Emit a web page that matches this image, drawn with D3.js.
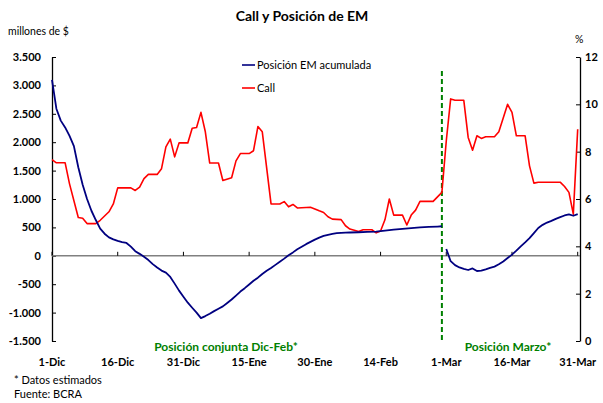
<!DOCTYPE html>
<html>
<head>
<meta charset="utf-8">
<script src="https://cdn.jsdelivr.net/npm/d3@7"></script>
<style>
  body { margin: 0; background: #fff; }
  svg { display: block; }
  text { font-family: Lato, "Open Sans", sans-serif; fill: #000; }
</style>
</head>
<body>
<svg id="chart" width="603" height="403"></svg>
<script>
// Posición de EM acumulada (millones de $), por fecha
const emFechas = [
  "2010-12-01","2010-12-02","2010-12-03","2010-12-04","2010-12-05","2010-12-06","2010-12-07","2010-12-08",
  "2010-12-09","2010-12-10","2010-12-11","2010-12-12","2010-12-13","2010-12-14","2010-12-15","2010-12-16",
  "2010-12-17","2010-12-18","2010-12-19","2010-12-20","2010-12-21","2010-12-22","2010-12-23","2010-12-24",
  "2010-12-25","2010-12-26","2010-12-27","2010-12-28","2010-12-29","2010-12-30","2010-12-31",
  "2011-01-01","2011-01-02","2011-01-03","2011-01-04","2011-01-05","2011-01-06","2011-01-07","2011-01-08",
  "2011-01-09","2011-01-10","2011-01-11","2011-01-12","2011-01-13","2011-01-14","2011-01-15","2011-01-16",
  "2011-01-17","2011-01-18","2011-01-19","2011-01-20","2011-01-21","2011-01-22","2011-01-23","2011-01-24",
  "2011-01-25","2011-01-26","2011-01-27","2011-01-28","2011-01-29","2011-01-30","2011-01-31",
  "2011-02-01","2011-02-02","2011-02-03","2011-02-04","2011-02-05","2011-02-06","2011-02-07","2011-02-09",
  "2011-02-11","2011-02-13","2011-02-15","2011-02-17","2011-02-19","2011-02-21","2011-02-23","2011-02-25",
  "2011-02-27","2011-02-28",
  "2011-03-01","2011-03-02","2011-03-03","2011-03-04","2011-03-05","2011-03-06","2011-03-07","2011-03-08",
  "2011-03-09","2011-03-10","2011-03-11","2011-03-12","2011-03-13","2011-03-14","2011-03-15","2011-03-16",
  "2011-03-17","2011-03-18","2011-03-19","2011-03-20","2011-03-21","2011-03-22","2011-03-23","2011-03-24",
  "2011-03-25","2011-03-26","2011-03-27","2011-03-28","2011-03-29","2011-03-30","2011-03-31"
];
const emValores = [
  3098, 2590, 2380, 2260, 2110, 1930, 1560, 1250, 1000, 793, 630, 478, 389, 324, 289, 264,
  241, 226, 162, 82, 34, -17, -75, -146, -206, -260, -295, -372, -490, -613, -720,
  -825, -914, -1000, -1097, -1061, -1020, -974, -931, -890, -830, -770, -700, -630, -570, -505, -440,
  -385, -320, -265, -215, -160, -105, -50, 10, 60, 115, 160, 205, 245, 285, 320,
  350, 370, 385, 398, 405, 408, 410, 415, 420, 425, 445, 460, 475, 488, 500, 508, 515, 520,
  120, -95, -165, -205, -230, -250, -222, -268, -262, -238, -212, -190, -150, -100, -40, 20,
  90, 165, 235, 310, 400, 490, 545, 585, 615, 650, 680, 710, 730, 705, 734
];

// Tasa Call (%), por fecha
const callFechas = [
  "2010-12-01","2010-12-02","2010-12-04","2010-12-05","2010-12-07","2010-12-08","2010-12-09","2010-12-11",
  "2010-12-12","2010-12-14","2010-12-15","2010-12-16","2010-12-19","2010-12-20","2010-12-21","2010-12-22",
  "2010-12-23","2010-12-25","2010-12-26","2010-12-27","2010-12-28","2010-12-29","2010-12-30",
  "2011-01-01","2011-01-02","2011-01-03","2011-01-04","2011-01-05","2011-01-06","2011-01-08","2011-01-09",
  "2011-01-11","2011-01-12","2011-01-13","2011-01-15","2011-01-16","2011-01-17","2011-01-18","2011-01-20",
  "2011-01-22","2011-01-23","2011-01-24","2011-01-25","2011-01-26","2011-01-29","2011-01-30","2011-01-31",
  "2011-02-01","2011-02-02","2011-02-03","2011-02-05","2011-02-06","2011-02-07","2011-02-09","2011-02-10",
  "2011-02-12","2011-02-13","2011-02-14","2011-02-15","2011-02-16","2011-02-17","2011-02-19","2011-02-20",
  "2011-02-21","2011-02-22","2011-02-23","2011-02-26","2011-02-27","2011-02-28",
  "2011-03-01","2011-03-02","2011-03-03","2011-03-05","2011-03-06","2011-03-07","2011-03-08","2011-03-09",
  "2011-03-10","2011-03-12","2011-03-13","2011-03-14","2011-03-15","2011-03-16","2011-03-17","2011-03-19",
  "2011-03-20","2011-03-21","2011-03-22","2011-03-27","2011-03-28","2011-03-29","2011-03-30","2011-03-31"
];
const callValores = [
  7.66, 7.53, 7.53, 6.64, 5.22, 5.19, 4.96, 4.96,
  5.10, 5.46, 5.79, 6.47, 6.47, 6.36, 6.50, 6.86,
  7.04, 7.04, 7.28, 8.20, 8.53, 7.78, 8.37,
  8.37, 8.99, 9.02, 9.66, 8.84, 7.52, 7.52, 6.78,
  6.90, 7.61, 7.92, 7.92, 8.04, 9.06, 8.84, 5.79,
  5.79, 5.89, 5.67, 5.77, 5.62, 5.65, 5.58, 5.50,
  5.43, 5.25, 5.15, 5.13, 4.87, 4.73, 4.63, 4.70,
  4.70, 4.57, 4.65, 5.12, 6.00, 5.32, 5.32, 4.90,
  5.32, 5.53, 5.90, 5.90, 6.09, 6.28,
  8.45, 10.23, 10.17, 10.17, 8.60, 8.06, 8.67, 8.56,
  8.63, 8.63, 8.84, 9.42, 10.00, 9.66, 8.67, 8.67,
  7.40, 6.67, 6.71, 6.71, 6.53, 6.28, 5.36, 8.95
];

// Ejes
const tickFechas = ["2010-12-01","2010-12-16","2010-12-31","2011-01-15","2011-01-30",
                    "2011-02-14","2011-03-01","2011-03-16","2011-03-31"];
const tickEtiquetas = ["1-Dic","16-Dic","31-Dic","15-Ene","30-Ene","14-Feb","1-Mar","16-Mar","31-Mar"];
const millonesTicks = [-1500, -1000, -500, 0, 500, 1000, 1500, 2000, 2500, 3000, 3500];
const porcentajeTicks = [0, 2, 4, 6, 8, 10, 12];
const cierreDicFeb = "2011-02-28";

const parse = d3.utcParse("%Y-%m-%d");
const svg = d3.select("#chart");

const x = d3.scaleUtc()
  .domain([parse("2010-12-01"), parse("2011-03-31")])
  .range([52, 577.7]);
const yL = d3.scaleLinear().domain([-1500, 3500]).range([341, 57]);
const yR = d3.scaleLinear().domain([0, 12]).range([341, 57]);

const es = d3.formatLocale({ decimal: ",", thousands: ".", grouping: [3], currency: ["$", ""], minus: "-" });
const fmtMill = es.format(",d");

// Título y rótulos de unidades
svg.append("text").attr("x", 302).attr("y", 21).attr("text-anchor", "middle")
  .style("font-size", "14px").style("font-weight", "bold").text("Call y Posición de EM");
svg.append("text").attr("x", 8).attr("y", 35).style("font-size", "10.5px").text("millones de $");
svg.append("text").attr("x", 575).attr("y", 43).style("font-size", "10.5px").text("%");

// Eje izquierdo (millones)
const gL = svg.append("g").attr("transform", "translate(52,0)")
  .call(d3.axisLeft(yL).tickValues(millonesTicks).tickFormat(fmtMill)
    .tickSizeInner(-4).tickSizeOuter(0).tickPadding(11));
// Eje derecho (%)
const gR = svg.append("g").attr("transform", "translate(580,0)")
  .call(d3.axisRight(yR).tickValues(porcentajeTicks)
    .tickSizeInner(-4).tickSizeOuter(0).tickPadding(5));
[gL, gR].forEach(g => {
  g.select(".domain").attr("stroke", "#000").attr("stroke-width", 1.3);
  g.selectAll(".tick line").attr("stroke", "#000");
  g.selectAll(".tick text").style("font-size", "11px").style("font-weight", "bold")
    .style("font-family", "Lato, 'Open Sans', sans-serif").attr("fill", "#000");
});

// Línea de cero con marcas de fecha
const y0 = yL(0);
svg.append("line").attr("x1", 52).attr("x2", 580).attr("y1", y0).attr("y2", y0)
  .attr("stroke", "#808080").attr("stroke-width", 1.5);
svg.append("g").selectAll("line").data(tickFechas).join("line")
  .attr("x1", d => x(parse(d))).attr("x2", d => x(parse(d)))
  .attr("y1", y0 - 4).attr("y2", y0).attr("stroke", "#000").attr("stroke-width", 1);

// Etiquetas de fecha
svg.append("g").selectAll("text").data(tickFechas).join("text")
  .attr("x", d => x(parse(d))).attr("y", 366).attr("text-anchor", "middle")
  .style("font-size", "11px").style("font-weight", "bold")
  .text((d, i) => tickEtiquetas[i]);

// Separación de períodos
const xCierre = x(parse(cierreDicFeb));
svg.append("line").attr("x1", xCierre).attr("x2", xCierre).attr("y1", 71).attr("y2", 341)
  .attr("stroke", "#008000").attr("stroke-width", 2).attr("stroke-dasharray", "5,3");
svg.append("text").attr("x", 226).attr("y", 351).attr("text-anchor", "middle")
  .style("font-size", "12px").style("font-weight", "bold").style("fill", "#008000")
  .text("Posición conjunta Dic-Feb*");
svg.append("text").attr("x", 508).attr("y", 351).attr("text-anchor", "middle")
  .style("font-size", "12px").style("font-weight", "bold").style("fill", "#008000")
  .text("Posición Marzo*");

// Series
const call = callFechas.map((f, i) => ({ fecha: parse(f), v: callValores[i] }));
const em = emFechas.map((f, i) => ({ fecha: parse(f), v: emValores[i] }));
const corte = parse(cierreDicFeb);

svg.append("path").datum(call)
  .attr("fill", "none").attr("stroke", "#ff0000").attr("stroke-width", 1.6)
  .attr("stroke-linejoin", "round")
  .attr("d", d3.line().x(d => x(d.fecha)).y(d => yR(d.v)));

const lineaEm = d3.line().x(d => x(d.fecha)).y(d => yL(d.v));
[em.filter(d => d.fecha <= corte), em.filter(d => d.fecha > corte)].forEach(tramo => {
  svg.append("path").datum(tramo)
    .attr("fill", "none").attr("stroke", "#000080").attr("stroke-width", 1.8)
    .attr("stroke-linejoin", "round")
    .attr("d", lineaEm);
});

// Leyenda
const leyenda = [
  { texto: "Posición EM acumulada", color: "#000080", y: 65 },
  { texto: "Call", color: "#ff0000", y: 88 }
];
const gLey = svg.append("g");
leyenda.forEach(l => {
  gLey.append("line").attr("x1", 242).attr("x2", 255).attr("y1", l.y).attr("y2", l.y)
    .attr("stroke", l.color).attr("stroke-width", 1.6);
  gLey.append("text").attr("x", 257).attr("y", l.y + 4).style("font-size", "11px").text(l.texto);
});

// Notas
svg.append("text").attr("x", 14).attr("y", 384).style("font-size", "11px").text("* Datos estimados");
svg.append("text").attr("x", 14).attr("y", 398).style("font-size", "11px").text("Fuente: BCRA");
</script>
</body>
</html>
